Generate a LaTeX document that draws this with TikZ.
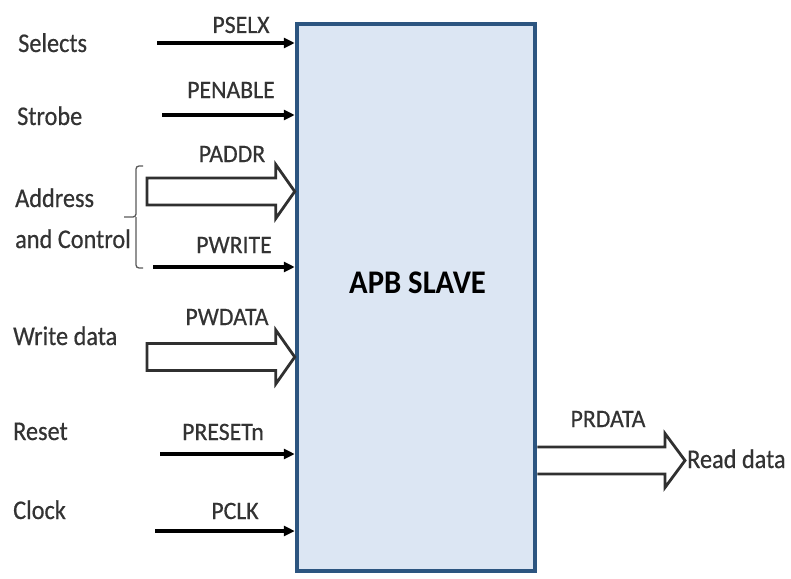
\documentclass[tikz,border=0pt]{standalone}
\usepackage{fontspec}
\setmainfont{Carlito}
\newfontfamily\sidefont[FakeStretch=0.9,FakeBold=0.5]{Carlito}
\newfontfamily\sigfont[FakeStretch=0.95,FakeBold=0.5]{Carlito}
\newfontfamily\boxfont[FakeStretch=0.93]{Carlito}
\usetikzlibrary{arrows.meta,calc}
\definecolor{boxfill}{HTML}{DCE6F3}
\definecolor{boxline}{HTML}{2C5580}
\definecolor{txt}{HTML}{333333}
\definecolor{busline}{HTML}{303030}
\newcommand\busarrow[2]{%
  \draw[bus] ($(#1)+(0,-13.5)$) -- ($(#2)+(-19,-13.5)$) -- ($(#2)+(-19,-27)$) -- (#2)
    -- ($(#2)+(-19,27)$) -- ($(#2)+(-19,13.5)$) -- ($(#1)+(0,13.5)$) -- cycle;}
\begin{document}
\begin{tikzpicture}[x=1pt,y=-1pt,
  sidetext/.style={anchor=base west,inner sep=0pt,text=txt,font=\sidefont\fontsize{27}{32}\selectfont},
  sigtext/.style={anchor=base,inner sep=0pt,text=txt,font=\sigfont\fontsize{25}{30}\selectfont},
  sig/.style={line width=3.2pt,black,-{Triangle[length=11pt,width=10pt]}},
  bus/.style={line width=2.8pt,draw=busline,fill=white,line join=miter},
  slave/.style={draw=boxline,fill=boxfill,line width=4.5pt,minimum width=238pt,minimum height=547pt,inner sep=0pt}]
\useasboundingbox (0,0) rectangle (791,578);
\node[slave] (box) at (416,297.5) {};
\node[anchor=base,inner sep=0pt,text=black,font=\boxfont\bfseries\fontsize{33}{38}\selectfont] (title) at (417.5,293) {APB SLAVE};
% left descriptions
\node[sidetext] (selects) at (18,52) {Selects};
\node[sidetext] (strobe) at (17,125) {Strobe};
\node[sidetext] (address) at (15,207) {Address};
\node[sidetext] (andctrl) at (15,248) {and Control};
\node[sidetext] (wdata) at (13,345) {Write data};
\node[sidetext] (reset) at (13,440) {Reset};
\node[sidetext] (clock) at (13,519) {Clock};
% signal names
\node[sigtext] (pselx) at (241,33) {PSELX};
\node[sigtext] (penable) at (231,98) {PENABLE};
\node[sigtext] (paddr) at (232,162) {PADDR};
\node[sigtext] (pwrite) at (234,253) {PWRITE};
\node[sigtext] (pwdata) at (227,325) {PWDATA};
\node[sigtext] (presetn) at (223,440) {PRESETn};
\node[sigtext] (pclk) at (235,519) {PCLK};
\node[sigtext] (prdata) at (608,427) {PRDATA};
\node[sidetext] (rdata) at (687,468) {Read data};
% start points
\coordinate (s1) at (157,43);
\coordinate (s2) at (162,115);
\coordinate (s3) at (147,191.5);
\coordinate (s4) at (153,267);
\coordinate (s5) at (147,357);
\coordinate (s6) at (160,454);
\coordinate (s7) at (155,531);
\coordinate (rdtip) at (685,460.5);
% thin arrows
\draw[sig] (s1) -- (s1 -| box.west);
\draw[sig] (s2) -- (s2 -| box.west);
\draw[sig] (s4) -- (s4 -| box.west);
\draw[sig] (s6) -- (s6 -| box.west);
\draw[sig] (s7) -- (s7 -| box.west);
% bus arrows
\busarrow{s3}{s3 -| box.west}
\busarrow{s5}{s5 -| box.west}
\draw[bus,fill=none] ($(rdtip -| box.east)+(0,-13.5)$) -- ($(rdtip)+(-20,-13.5)$) -- ($(rdtip)+(-20,-27)$) -- (rdtip)
  -- ($(rdtip)+(-20,27)$) -- ($(rdtip)+(-20,13.5)$) -- ($(rdtip -| box.east)+(0,13.5)$);
% bracket
\coordinate (bt) at (143,166);
\coordinate (bb) at (143,268);
\coordinate (bm) at (124,217);
\draw[line width=1.3pt,gray!70!black,rounded corners=3pt] (bt) -- (136,166) -- (136,217) -- (bm);
\draw[line width=1.3pt,gray!70!black,rounded corners=3pt] (bb) -- (136,268) -- (136,217);
\end{tikzpicture}
\end{document}
